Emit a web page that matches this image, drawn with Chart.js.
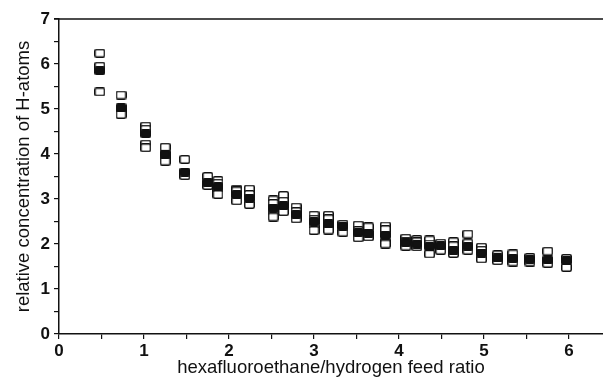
<!DOCTYPE html>
<html><head><meta charset="utf-8">
<script src="https://cdn.jsdelivr.net/npm/chart.js@4.4.1/dist/chart.umd.min.js"></script>
<style>html,body{margin:0;padding:0;background:#fff}#wrap{width:603px;height:379px}</style>
</head><body><div id="wrap"><canvas id="c" width="603" height="379"></canvas></div>
<script>
// feed ratio for each measurement group
const groupX = [0.48, 0.73, 1.02, 1.25, 1.48, 1.75, 1.87, 2.09, 2.24, 2.52,
                2.64, 2.79, 3.00, 3.17, 3.34, 3.52, 3.64, 3.84, 4.08, 4.21,
                4.36, 4.49, 4.64, 4.81, 4.97, 5.16, 5.34, 5.54, 5.75, 5.97];
// filled squares (one per group)
const filledY = [5.85, 5.03, 4.45, 4.00, 3.60, 3.36, 3.28, 3.10, 3.02, 2.80,
                 2.85, 2.66, 2.50, 2.45, 2.40, 2.26, 2.24, 2.20, 2.03, 2.00,
                 1.95, 1.96, 1.86, 1.95, 1.80, 1.69, 1.68, 1.66, 1.65, 1.63];
// open squares (several per group)
const openY = [
  [6.24, 5.95, 5.38], [5.31, 4.92, 4.88], [4.62, 4.55, 4.22, 4.14], [4.15, 3.90, 3.84],
  [3.88, 3.52], [3.50, 3.30], [3.41, 3.35, 3.15, 3.10], [3.22, 3.18, 2.96],
  [3.22, 3.10, 2.88], [2.98, 2.90, 2.66, 2.60], [3.08, 2.95, 2.72], [2.82, 2.72, 2.56],
  [2.64, 2.55, 2.36, 2.30], [2.64, 2.56, 2.36, 2.31], [2.44, 2.26], [2.42, 2.30, 2.14],
  [2.38, 2.16], [2.40, 2.32, 2.04, 2.00], [2.13, 2.06, 1.95], [2.10, 2.05, 1.94],
  [2.09, 2.00, 1.78], [2.02, 1.86], [2.05, 1.96, 1.79], [2.22, 2.02, 1.86],
  [1.93, 1.86, 1.67], [1.76, 1.63], [1.78, 1.60], [1.70, 1.60], [1.84, 1.57], [1.68, 1.48]
];
const xTickLabels = ['0', '1', '2', '3', '4', '5', '6'];
const yTickLabels = ['0', '1', '2', '3', '4', '5', '6', '7'];
const xTitle = 'hexafluoroethane/hydrogen feed ratio';
const yTitle = 'relative concentration of H-atoms';

function marker(fill) {
  const c = document.createElement('canvas');
  c.width = 11; c.height = 9;
  const g = c.getContext('2d');
  g.fillStyle = fill;
  g.strokeStyle = '#111';
  g.lineWidth = 1.5;
  g.beginPath();
  g.roundRect ? g.roundRect(0.75, 0.75, 9.5, 7.5, 1.5) : g.rect(0.75, 0.75, 9.5, 7.5);
  g.fill(); g.stroke();
  return c;
}

const filledPts = groupX.map((x, i) => ({x: x, y: filledY[i]}));
const openPts = [];
groupX.forEach((x, i) => openY[i].forEach(y => openPts.push({x: x, y: y})));

const topLine = {
  id: 'topLine',
  afterDraw(chart) {
    const {ctx, chartArea} = chart;
    ctx.save();
    ctx.strokeStyle = '#111';
    ctx.lineWidth = 1.5;
    ctx.beginPath();
    ctx.moveTo(chartArea.left - 5, chartArea.top);
    ctx.lineTo(chart.width, chartArea.top);
    ctx.stroke();
    ctx.restore();
  }
};

const tickFont = {family: '"Liberation Sans", Arial, sans-serif', size: 17, weight: 'bold'};
const titleFont = {family: '"Liberation Sans", Arial, sans-serif', size: 18.5, weight: 'normal'};

new Chart(document.getElementById('c'), {
  type: 'scatter',
  data: {
    datasets: [
      {data: filledPts, pointStyle: marker('#111'), pointRadius: 5, pointHoverRadius: 5},
      {data: openPts, pointStyle: marker('#fff'), pointRadius: 5, pointHoverRadius: 5}
    ]
  },
  options: {
    responsive: false,
    animation: false,
    events: [],
    layout: {autoPadding: false, padding: {top: 19, right: 0, left: 0, bottom: 0}},
    plugins: {legend: {display: false}, tooltip: {enabled: false}},
    scales: {
      x: {
        type: 'linear', min: 0, max: 6.4,
        afterFit(s) { s.height = 45; s.paddingRight = 0; s.paddingLeft = 0; },
        border: {display: true, color: '#111', width: 1.5},
        grid: {display: true, drawOnChartArea: false, drawTicks: true, tickLength: 5, color: '#111', lineWidth: 1.2},
        ticks: {
          stepSize: 0.5, includeBounds: false, padding: 2, color: '#111', font: tickFont, maxRotation: 0, autoSkip: false,
          callback: v => Number.isInteger(v) ? xTickLabels[v] : ''
        },
        title: {display: true, text: xTitle, color: '#111', font: titleFont, padding: {top: 0, bottom: 0}}
      },
      y: {
        type: 'linear', min: 0, max: 7,
        afterFit(s) { s.width = 59; s.paddingTop = 0; s.paddingBottom = 0; },
        border: {display: true, color: '#111', width: 1.5},
        grid: {display: true, drawOnChartArea: false, drawTicks: true, tickLength: 5, color: '#111', lineWidth: 1.2},
        ticks: {
          stepSize: 0.5, includeBounds: false, padding: 4, color: '#111', font: tickFont, autoSkip: false,
          callback: v => Number.isInteger(v) ? yTickLabels[v] : ''
        },
        title: {display: true, text: yTitle, color: '#111', font: titleFont, padding: {top: 13, bottom: 0}}
      }
    }
  },
  plugins: [topLine]
});
</script>
</body></html>
